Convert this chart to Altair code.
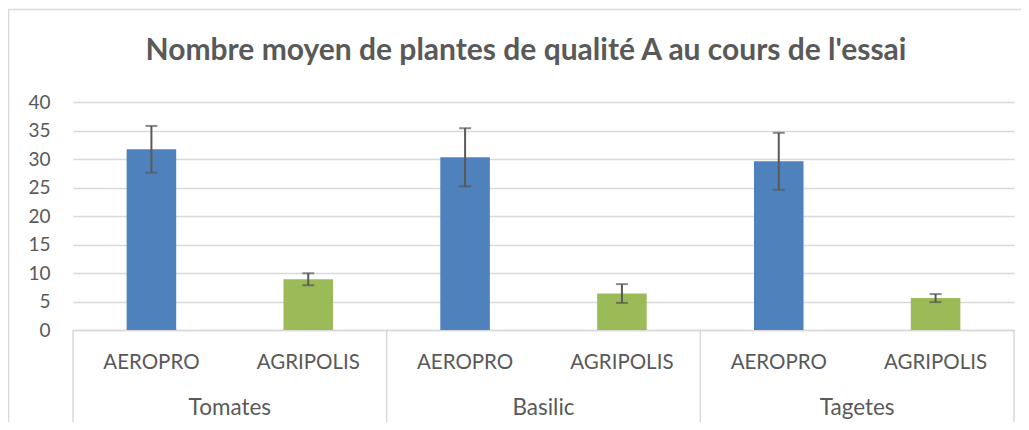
import altair as alt
import pandas as pd

# ---- data ----
groups = ["Tomates", "Basilic", "Tagetes"]
series = ["AEROPRO", "AGRIPOLIS"]
aeropro_mean = [31.7, 30.3, 29.6]
agripolis_mean = [8.9, 6.4, 5.6]
aeropro_err = [4.1, 5.1, 5.0]
agripolis_err = [1.05, 1.65, 0.7]
y_ticks = [0, 5, 10, 15, 20, 25, 30, 35, 40]
title_text = "Nombre moyen de plantes de qualité A au cours de l'essai"

rows = []
for i, g in enumerate(groups):
    rows.append({"group": g, "series": "AEROPRO", "key": f"{g}|AEROPRO",
                 "mean": aeropro_mean[i], "err": aeropro_err[i]})
    rows.append({"group": g, "series": "AGRIPOLIS", "key": f"{g}|AGRIPOLIS",
                 "mean": agripolis_mean[i], "err": agripolis_err[i]})
df = pd.DataFrame(rows)
keys = list(df["key"])

W, H = 941, 228
GRAY = "#595959"
LINE = "#d9d9d9"

xscale = alt.Scale(domain=keys, paddingInner=0, paddingOuter=0)
yscale = alt.Scale(domain=[0, 40])

xaxis = alt.Axis(title=None, labelExpr="split(datum.label, '|')[1]",
                 labelAngle=0, labelFontSize=20.5, labelColor=GRAY,
                 labelBaseline="alphabetic", labelPadding=38,
                 ticks=False, domainColor=LINE, domainWidth=1.5,
                 grid=False, labelOverlap=False)
yaxis = alt.Axis(title=None, values=y_ticks, labelFontSize=19,
                 labelColor=GRAY, labelPadding=23, ticks=False,
                 domain=False, gridColor=LINE, gridWidth=1.5,
                 labelOverlap=False, tickCount=9)

base = alt.Chart(df).transform_calculate(
    lo="datum.mean - datum.err", hi="datum.mean + datum.err"
)

X = alt.X("key:N", scale=xscale, sort=keys, axis=xaxis)

bars = base.mark_bar(width=alt.RelativeBandSize(0.316)).encode(
    x=X,
    y=alt.Y("mean:Q", scale=yscale, axis=yaxis),
    color=alt.Color("series:N", scale=alt.Scale(domain=series,
                    range=["#4f81bd", "#9bbb59"]), legend=None),
)

err_rule = base.mark_rule(color=GRAY, strokeWidth=2).encode(
    x=X,
    y=alt.Y("lo:Q", scale=yscale, axis=yaxis),
    y2="hi:Q",
)
cap_lo = base.mark_tick(color=GRAY, size=12, thickness=2).encode(
    x=X,
    y=alt.Y("lo:Q", scale=yscale, axis=yaxis),
)
cap_hi = base.mark_tick(color=GRAY, size=12, thickness=2).encode(
    x=X,
    y=alt.Y("hi:Q", scale=yscale, axis=yaxis),
)

first_keys = pd.DataFrame({"key": [f"{g}|AEROPRO" for g in groups], "group": groups})
group_labels = alt.Chart(first_keys).mark_text(
    fontSize=22.5, color=GRAY, baseline="alphabetic", align="center"
).encode(
    x=alt.X("key:N", scale=xscale, sort=keys, bandPosition=1, axis=xaxis),
    y=alt.value(313),
    text="group:N",
)
sep_left = alt.Chart(first_keys).mark_rule(color=LINE, strokeWidth=1.5).encode(
    x=alt.X("key:N", scale=xscale, sort=keys, bandPosition=0, axis=xaxis),
    y=alt.value(H), y2=alt.value(H + 95),
)
last_key = pd.DataFrame({"key": [keys[-1]]})
sep_right = alt.Chart(last_key).mark_rule(color=LINE, strokeWidth=1.5).encode(
    x=alt.X("key:N", scale=xscale, sort=keys, bandPosition=1, axis=xaxis),
    y=alt.value(H), y2=alt.value(H + 95),
)

one = pd.DataFrame({"t": [title_text]})
title = alt.Chart(one).mark_text(
    fontSize=30, fontWeight="bold", color=GRAY, baseline="alphabetic", align="center"
).encode(x=alt.value(453), y=alt.value(-42), text="t:N")

border = alt.Chart(one).mark_rect(
    fillOpacity=0, stroke=LINE, strokeWidth=1.5
).encode(x=alt.value(-64.5), x2=alt.value(980), y=alt.value(-92.5), y2=alt.value(400))

chart = alt.layer(
    border, bars, err_rule, cap_lo, cap_hi, sep_left, sep_right, group_labels, title
).properties(
    width=W, height=H,
    autosize=alt.AutoSizeParams(type="none"),
    padding={"left": 65, "top": 94, "right": 7, "bottom": 92},
).configure(font="Lato").configure_view(strokeWidth=0).configure_axis(labelOverlap=False)

chart.save("out.html", embed_options={"renderer": "svg", "actions": False})
